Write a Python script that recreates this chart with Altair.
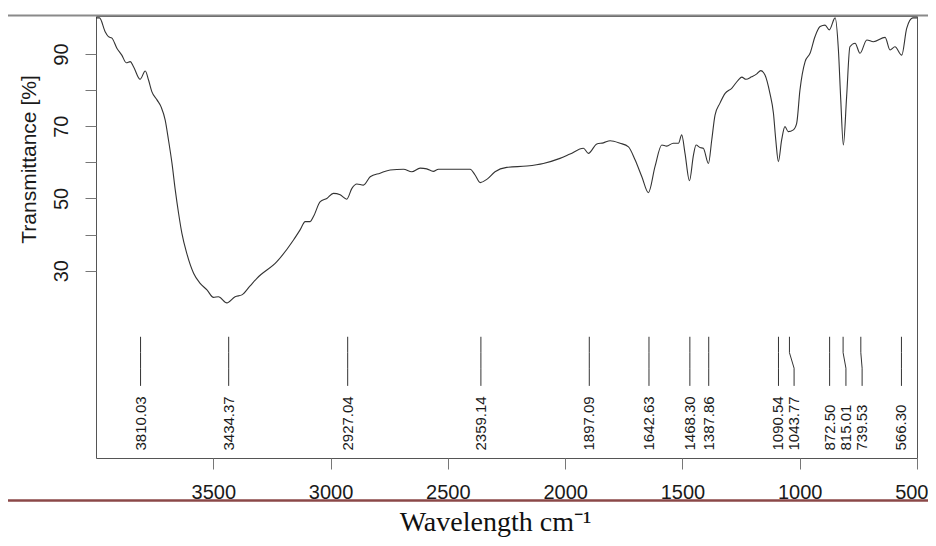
import altair as alt
import pandas as pd

# ---- spectrum (wavenumber cm-1, transmittance %) ----
wn = [4000, 3985, 3961, 3947, 3932, 3911, 3890, 3871, 3854, 3840, 3812, 3790, 3776, 3762,
      3740, 3722, 3705, 3691, 3676, 3662, 3648, 3634, 3613, 3584, 3556, 3527, 3499, 3478,
      3442, 3407, 3378, 3343, 3314, 3229, 3158, 3130, 3108, 3087, 3073, 3044, 3016, 2988,
      2959, 2931, 2909, 2888, 2860, 2831, 2789, 2746, 2689, 2654, 2618, 2590, 2562, 2540,
      2405, 2384, 2362, 2334, 2299, 2249, 2163, 2093, 2022, 1979, 1922, 1901, 1865, 1837,
      1808, 1766, 1730, 1702, 1673, 1645, 1617, 1588, 1567, 1539, 1517, 1503, 1489, 1470,
      1453, 1442, 1425, 1411, 1389, 1375, 1361, 1340, 1318, 1290, 1262, 1247, 1229, 1205,
      1183, 1166, 1148, 1127, 1112, 1102, 1091, 1077, 1063, 1049, 1027, 1013, 999, 977,
      956, 935, 913, 892, 874, 849, 835, 825, 814, 800, 786, 764, 743, 714, 686, 636,
      615, 594, 565, 544, 518, 500]
trans = [100, 100, 96.2, 94.8, 94.4, 91.6, 89.7, 87.6, 87.9, 86.5, 83.0, 85.3, 82.8, 79.6,
         77.3, 75.3, 71.7, 66.2, 59.7, 52.3, 45.9, 40.4, 34.8, 29.3, 26.5, 24.7, 22.6, 22.8,
         21.1, 22.8, 23.3, 25.8, 27.9, 32.5, 38.5, 41.3, 43.6, 43.6, 45.0, 49.1, 50.0, 51.4,
         51.0, 49.8, 52.8, 54.0, 53.7, 56.0, 57.0, 57.9, 58.1, 57.4, 58.4, 58.2, 57.5, 58.1,
         58.1, 56.5, 54.4, 55.3, 57.4, 58.6, 59.0, 59.7, 61.1, 62.3, 63.9, 62.5, 65.1, 65.4,
         66.0, 65.3, 64.3, 60.7, 56.0, 51.6, 58.8, 64.8, 64.5, 65.3, 65.3, 67.6, 62.5, 54.9,
         62.0, 64.8, 64.1, 63.9, 59.7, 66.2, 73.1, 76.4, 79.1, 80.5, 82.8, 83.6, 83.0, 83.7,
         84.5, 85.4, 84.2, 79.1, 73.6, 66.2, 60.2, 66.2, 69.9, 68.5, 69.0, 70.8, 80.0, 87.9,
         90.2, 94.8, 97.6, 98.0, 96.7, 100, 91.1, 77.3, 64.8, 78.2, 92.0, 93.0, 90.2, 93.9,
         93.4, 94.6, 91.1, 92.0, 89.7, 97.1, 100, 100]
assert len(wn) == len(trans)

# ---- peak annotations ----
peak_wn = [3810.03, 3434.37, 2927.04, 2359.14, 1897.09, 1642.63, 1468.30, 1387.86,
           1090.54, 1043.77, 872.50, 815.01, 739.53, 566.30]
peak_text = ["3810.03", "3434.37", "2927.04", "2359.14", "1897.09", "1642.63", "1468.30",
             "1387.86", "1090.54", "1043.77", "872.50", "815.01", "739.53", "566.30"]
label_wn = [3810.03, 3434.37, 2927.04, 2359.14, 1897.09, 1642.63, 1468.30, 1387.86,
            1090.54, 1024.0, 872.50, 803.0, 734.0, 566.30]

x_ticks = [3500, 3000, 2500, 2000, 1500, 1000, 500]
y_ticks = [30, 40, 50, 60, 70, 80, 90]

LINE_TOP, BEND_TOP, BEND_BOT, LINE_BOT, TEXT_Y = 11.7, 7.3, 3.0, -1.9, -19.8

spec = pd.DataFrame({"wn": wn, "T": trans, "i": range(len(wn))})

rows = []
for k, (pw, lw) in enumerate(zip(peak_wn, label_wn)):
    for s, (xx, yy) in enumerate([(pw, LINE_TOP), (pw, BEND_TOP), (lw, BEND_BOT), (lw, LINE_BOT)]):
        rows.append({"peak": k, "s": s, "wn": xx, "T": yy})
leader = pd.DataFrame(rows)
labels = pd.DataFrame({"wn": label_wn, "txt": peak_text, "T": [TEXT_Y] * len(peak_text)})

W, H = 821, 442

xscale = alt.Scale(domain=[500, 4000], reverse=True, nice=False, zero=False)
yscale = alt.Scale(domain=[-21.87, 100.53], nice=False, zero=False)

xaxis = alt.Axis(values=x_ticks, format="d", grid=False, domain=False, tickSize=11, tickColor="#777",
                 labelFont="Liberation Sans", labelFontSize=20, labelColor="#1a1a1a",
                 labelPadding=13, labelFlush=True, labelFlushOffset=11, labelOverlap=False,
                 title="Wavelength cm⁻¹", titleFont="Liberation Serif", titleFontSize=28,
                 titleFontWeight="normal", titleColor="#111", titleX=399, titleY=72,
                 titleAlign="center", titleBaseline="alphabetic")
yaxis = alt.Axis(values=y_ticks, grid=False, domain=False, tickSize=11, tickColor="#777",
                 labelExpr="datum.value % 20 == 10 ? datum.label : ''",
                 labelAngle=270, labelAlign="center", labelBaseline="bottom",
                 labelFont="Liberation Sans", labelFontSize=20, labelColor="#1a1a1a",
                 labelPadding=14, labelOverlap=False, labelFlush=False,
                 title="Transmittance [%]", titleFont="Liberation Sans", titleFontSize=21,
                 titleFontWeight="normal", titleColor="#1a1a1a", titleAngle=270,
                 titleX=-67, titleY=143, titleAlign="center", titleBaseline="middle")

curve = alt.Chart(spec).mark_line(color="#333", strokeWidth=1.1, interpolate="monotone").encode(
    x=alt.X("wn:Q", scale=xscale, axis=xaxis),
    y=alt.Y("T:Q", scale=yscale, axis=yaxis),
    order="i:Q",
)

leaders = alt.Chart(leader).mark_line(color="#333", strokeWidth=1).encode(
    x=alt.X("wn:Q", scale=xscale),
    y=alt.Y("T:Q", scale=yscale),
    detail="peak:N",
    order="s:Q",
)

texts = alt.Chart(labels).mark_text(angle=270, align="left", baseline="middle",
                                    font="Liberation Sans", fontSize=15, color="#1a1a1a").encode(
    x=alt.X("wn:Q", scale=xscale),
    y=alt.Y("T:Q", scale=yscale),
    text="txt:N",
)

one = pd.DataFrame({"a": [0]})
top_rule = alt.Chart(one).mark_rule(color="#8a8a8a", strokeWidth=2).encode(
    x=alt.value(-88), x2=alt.value(832), y=alt.value(-0.5))
bottom_rule = alt.Chart(one).mark_rule(color="#8b4848", strokeWidth=2.5).encode(
    x=alt.value(-88), x2=alt.value(832), y=alt.value(484.5))

chart = alt.layer(curve, leaders, texts, top_rule, bottom_rule).properties(
    width=W, height=H,
    autosize=alt.AutoSizeParams(type="none"),
    padding={"left": 88, "top": 8, "right": 11, "bottom": 80},
    background="white",
).configure_view(stroke="#555", strokeWidth=1)

chart.save("out.html", embed_options={"renderer": "svg", "actions": False})
